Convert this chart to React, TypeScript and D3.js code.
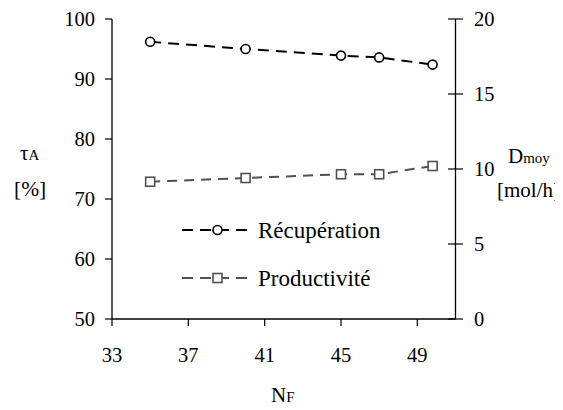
import React from 'react';
import * as d3 from 'd3';

// nombre d'étages N_F
const nfValues = [35, 40, 45, 47, 49.8];
// taux de récupération τA [%] (axe gauche)
const recuperation = [96.2, 95.0, 93.9, 93.6, 92.4];
// productivité Dmoy [mol/h] (axe droit)
const productivite = [9.15, 9.4, 9.65, 9.65, 10.2];

const xTicks = [33, 37, 41, 45, 49];
const leftTicks = [50, 60, 70, 80, 90, 100];
const rightTicks = [0, 5, 10, 15, 20];

const seriesNames = ['Récupération', 'Productivité'];

const W = 563;
const H = 410;
const GRAY = '#505050';
const SERIF = "'Liberation Serif'";

const App: React.FC = () => {
  const x = d3.scaleLinear().domain([33, 51]).range([112, 455.5]);
  const yL = d3.scaleLinear().domain([50, 100]).range([319, 19]);
  const yR = d3.scaleLinear().domain([0, 20]).range([319, 19]);

  const lineL = d3.line<number>()
    .x((_, i) => x(nfValues[i]))
    .y(d => yL(d));
  const lineR = d3.line<number>()
    .x((_, i) => x(nfValues[i]))
    .y(d => yR(d));

  const legendY = [230, 278];
  const f = { fontFamily: SERIF };

  return (
    <svg width={W} height={H} style={{ display: 'block', margin: '-8px 0 0 -8px' }}>
      <rect width={W} height={H} fill="#fff" />

      {/* axes */}
      <line x1={112} x2={112} y1={19} y2={319} stroke="#000" strokeWidth={1.3} />
      <line x1={455.5} x2={455.5} y1={19} y2={319} stroke="#000" strokeWidth={1.3} />
      <line x1={112} x2={455.5} y1={319} y2={319} stroke="#000" strokeWidth={1.3} />

      {leftTicks.map(t => (
        <line key={'lt' + t} x1={105} x2={112} y1={yL(t)} y2={yL(t)} stroke="#000" strokeWidth={1.2} />
      ))}
      {leftTicks.map(t => (
        <text key={'l' + t} x={95} y={yL(t) + 7} fontSize={20.5} textAnchor="end" style={f}>{t}</text>
      ))}
      {rightTicks.map(t => (
        <line key={'rt' + t} x1={448} x2={463} y1={yR(t)} y2={yR(t)} stroke="#000" strokeWidth={1.2} />
      ))}
      {rightTicks.map(t => (
        <text key={'r' + t} x={474} y={yR(t) + 7} fontSize={20.5} style={f}>{t}</text>
      ))}
      {xTicks.map(t => (
        <line key={'xt' + t} x1={x(t)} x2={x(t)} y1={319} y2={326} stroke="#000" strokeWidth={1.2} />
      ))}
      {xTicks.map(t => (
        <text key={'x' + t} x={x(t)} y={362} fontSize={20.5} textAnchor="middle" style={f}>{t}</text>
      ))}

      {/* titres d'axes */}
      <text x={20} y={160} fontSize={21} style={f}>τ<tspan fontSize={15}>A</tspan></text>
      <text x={14} y={196} fontSize={21.5} style={f}>[%]</text>
      <text x={508} y={163} fontSize={21} style={f}>D<tspan fontSize={15}>moy</tspan></text>
      <text x={497} y={197} fontSize={21} style={f}>[mol/h]</text>
      <text x={271} y={402} fontSize={21} style={f}>N<tspan fontSize={15}>F</tspan></text>

      {/* séries */}
      <path d={lineL(recuperation) || ''} fill="none" stroke="#000" strokeWidth={2} strokeDasharray="11,7" />
      <path d={lineR(productivite) || ''} fill="none" stroke={GRAY} strokeWidth={2} strokeDasharray="10,7" />
      {recuperation.map((v, i) => (
        <circle key={'c' + i} cx={x(nfValues[i])} cy={yL(v)} r={4.5} fill="#fff" stroke="#000" strokeWidth={1.6} />
      ))}
      {productivite.map((v, i) => (
        <rect key={'s' + i} x={x(nfValues[i]) - 4.5} y={yR(v) - 4.5} width={9} height={9} fill="#fff" stroke={GRAY} strokeWidth={1.6} />
      ))}

      {/* légende */}
      {seriesNames.map((name, i) => (
        <line key={'ll' + i} x1={182} x2={252} y1={legendY[i]} y2={legendY[i]}
          stroke={i === 0 ? '#000' : GRAY} strokeWidth={2} strokeDasharray="11,7" />
      ))}
      <circle cx={217.5} cy={legendY[0]} r={4.5} fill="#fff" stroke="#000" strokeWidth={1.6} />
      <rect x={213} y={legendY[1] - 4.5} width={9} height={9} fill="#fff" stroke={GRAY} strokeWidth={1.6} />
      {seriesNames.map((name, i) => (
        <text key={name} x={258} y={legendY[i] + 8} fontSize={23} style={f}>{name}</text>
      ))}
    </svg>
  );
};

export default App;
